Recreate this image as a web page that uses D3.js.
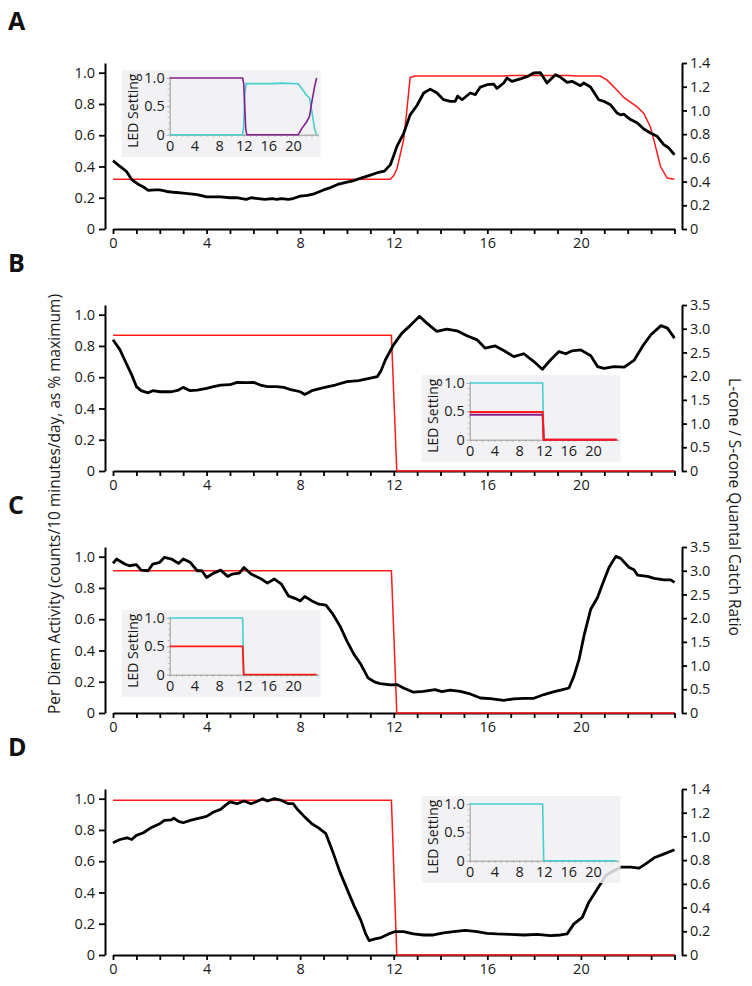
<!DOCTYPE html>
<html><head><meta charset="utf-8">
<script src="https://cdn.jsdelivr.net/npm/d3@7"></script>
<style>
body{margin:0;background:#fff}
svg{display:block}
text{font-family:"Open Sans",sans-serif;fill:#1a1a1a}
</style>
</head><body>
<svg id="c" width="752" height="986"></svg>
<script>
// ---------------- DATA ----------------
const panelLabels = ["A","B","C","D"];
const xTickLabels = [0,4,8,12,16,20];
const leftTicks = [0,0.2,0.4,0.6,0.8,1.0];
const rightTicks14 = [0,0.2,0.4,0.6,0.8,1.0,1.2,1.4];
const rightTicks35 = [0,0.5,1.0,1.5,2.0,2.5,3.0,3.5];
const insetYTicks = [0,0.5,1.0];
const insetXTicks = [0,4,8,12,16,20];

// Panel A
const hoursA = [0,0.3,0.57,0.8,1.1,1.3,1.5,1.8,2.0,2.3,2.6,3.0,3.3,3.6,4.0,4.3,4.6,5.0,5.3,5.5,5.7,5.9,6.2,6.5,6.8,7.0,7.2,7.5,7.7,8.0,8.3,8.6,9.0,9.3,9.6,10.0,10.3,10.6,11.0,11.3,11.6,11.85,12.0,12.14,12.42,12.7,12.99,13.28,13.56,13.85,14.13,14.42,14.63,14.73,14.92,15.27,15.49,15.7,15.99,16.27,16.41,16.7,16.84,17.05,17.41,17.77,17.98,18.27,18.55,18.91,19.12,19.41,19.62,19.98,20.12,20.41,20.76,20.98,21.26,21.55,21.69,21.83,22.12,22.4,22.69,22.97,23.26,23.54,23.76,24];
const activityA = [0.437,0.40,0.369,0.316,0.284,0.269,0.247,0.25,0.25,0.24,0.235,0.23,0.225,0.22,0.205,0.205,0.205,0.2,0.2,0.195,0.19,0.2,0.195,0.19,0.195,0.19,0.195,0.19,0.195,0.21,0.215,0.225,0.25,0.265,0.285,0.30,0.31,0.325,0.345,0.36,0.37,0.41,0.47,0.53,0.61,0.73,0.79,0.87,0.895,0.87,0.827,0.817,0.817,0.85,0.827,0.87,0.86,0.908,0.923,0.927,0.90,0.934,0.966,0.944,0.96,0.98,0.998,1.0,0.934,0.987,0.972,0.938,0.945,0.917,0.934,0.908,0.827,0.817,0.795,0.742,0.73,0.735,0.70,0.68,0.64,0.614,0.593,0.54,0.518,0.475];
const ratioHoursA = [0,11.85,12.0,12.14,12.42,12.56,12.7,12.9,16.7,17.0,19.5,19.8,20.83,21.12,21.55,21.83,22.4,22.69,22.97,23.12,23.4,23.69,24];
const ratioA = [0.42,0.42,0.45,0.51,0.75,1.0,1.277,1.29,1.29,1.295,1.295,1.29,1.29,1.255,1.17,1.11,1.03,0.975,0.86,0.75,0.527,0.43,0.42];

// Panel B
const hoursB = [0,0.3,0.5,0.8,1.0,1.2,1.5,1.7,2.0,2.5,2.8,3.0,3.3,3.6,4.0,4.3,4.6,5.0,5.3,5.7,6.0,6.3,6.6,7.0,7.3,7.6,8.0,8.2,8.5,9.0,9.5,10.0,10.5,11.0,11.3,11.45,11.64,11.99,12.35,12.7,13.1,13.41,13.84,14.27,14.7,15.13,15.56,15.91,16.34,16.7,17.13,17.56,17.99,18.35,18.7,19.06,19.35,19.63,19.99,20.42,20.71,20.99,21.42,21.85,22.28,22.63,22.99,23.42,23.7,24];
const activityB = [0.84,0.775,0.71,0.615,0.54,0.514,0.50,0.514,0.507,0.507,0.518,0.535,0.514,0.518,0.529,0.54,0.55,0.552,0.567,0.565,0.567,0.55,0.54,0.54,0.535,0.52,0.507,0.49,0.514,0.533,0.55,0.572,0.578,0.594,0.604,0.64,0.71,0.807,0.882,0.93,0.99,0.946,0.893,0.908,0.897,0.865,0.839,0.786,0.80,0.771,0.732,0.75,0.70,0.651,0.71,0.764,0.75,0.769,0.775,0.737,0.668,0.657,0.668,0.664,0.71,0.797,0.872,0.93,0.914,0.85];
const ratioHoursB = [0,11.9,12.13,24];
const ratioB = [2.86,2.86,0,0];

// Panel C
const hoursC = [0,0.15,0.5,0.7,1.0,1.2,1.5,1.7,2.0,2.2,2.5,2.8,3.0,3.3,3.6,3.8,4.0,4.3,4.6,4.9,5.1,5.4,5.6,5.9,6.3,6.6,6.9,7.2,7.5,7.8,8.0,8.2,8.5,8.8,9.1,9.4,9.7,10.0,10.3,10.6,10.9,11.2,11.42,11.85,12.13,12.42,12.84,13.27,13.77,14.05,14.41,14.84,15.27,15.7,16.13,16.7,17.13,17.56,17.99,18.42,18.78,19.13,19.49,19.7,19.92,20.13,20.42,20.71,20.92,21.2,21.49,21.7,22.06,22.27,22.42,22.85,23.13,23.56,23.84,24];
const activityC = [0.957,0.985,0.953,0.942,0.949,0.914,0.91,0.953,0.964,0.996,0.985,0.957,0.985,0.964,0.91,0.91,0.867,0.895,0.914,0.874,0.889,0.895,0.931,0.889,0.861,0.831,0.857,0.824,0.749,0.732,0.717,0.745,0.717,0.696,0.69,0.632,0.557,0.46,0.375,0.31,0.225,0.197,0.188,0.18,0.182,0.16,0.133,0.139,0.15,0.137,0.146,0.139,0.122,0.096,0.092,0.081,0.09,0.094,0.094,0.118,0.133,0.146,0.16,0.236,0.343,0.493,0.664,0.739,0.824,0.931,1.002,0.989,0.931,0.916,0.882,0.874,0.861,0.852,0.852,0.835];
const ratioHoursC = [0,11.9,12.13,24];
const ratioC = [3.0,3.0,0,0];

// Panel D
const hoursD = [0,0.3,0.6,0.8,1.0,1.3,1.6,2.0,2.2,2.5,2.6,2.8,3.0,3.3,3.6,4.0,4.3,4.6,4.8,5.0,5.3,5.6,5.9,6.1,6.4,6.6,6.9,7.2,7.5,7.7,7.9,8.2,8.5,8.8,9.1,9.4,9.7,10.0,10.3,10.6,10.8,10.95,11.2,11.42,11.78,12.06,12.42,12.84,13.27,13.7,14.13,14.56,15.06,15.56,15.99,16.41,16.98,17.56,18.13,18.7,19.13,19.41,19.7,20.06,20.34,20.7,21.06,21.42,21.7,22.13,22.49,22.77,23.13,23.56,24];
const activityD = [0.718,0.739,0.75,0.739,0.765,0.782,0.812,0.84,0.861,0.865,0.876,0.855,0.846,0.861,0.872,0.887,0.915,0.932,0.957,0.979,0.968,0.985,0.968,0.979,1.0,0.985,1.0,0.989,0.968,0.968,0.929,0.882,0.84,0.812,0.776,0.658,0.53,0.423,0.316,0.22,0.135,0.092,0.103,0.109,0.135,0.15,0.15,0.135,0.128,0.128,0.141,0.15,0.158,0.15,0.139,0.135,0.132,0.128,0.132,0.124,0.128,0.135,0.199,0.241,0.338,0.423,0.509,0.541,0.562,0.562,0.556,0.583,0.622,0.647,0.673];
const ratioHoursD = [0,11.9,12.13,24];
const ratioD = [1.305,1.305,0,0];

// Inset LED settings
const ledHoursA_purple = [0,11.83,12.0,12.17,12.33,12.5,20.83,21.5,22.17,22.67,23.0,23.5,23.83];
const ledA_purple      = [1,1,0.9,0.5,0.1,0,0,0.12,0.22,0.32,0.55,0.85,1.0];
const ledHoursA_cyan   = [0,11.83,12.0,12.17,12.4,17,18,20.83,21.5,22.17,22.67,23.0,23.5,23.83];
const ledA_cyan        = [0,0,0.15,0.7,0.9,0.9,0.91,0.9,0.8,0.7,0.65,0.45,0.1,0];
const ledStepHours = [0,11.83,12.0,23.83];
const ledB_cyan = [1,1,0,0];
const ledB_purple = [0.44,0.44,0,0];
const ledB_red = [0.49,0.49,0,0];
const ledC_cyan = [1,1,0,0];
const ledC_red = [0.5,0.5,0,0];
const ledD_cyan = [1,1,0,0];

// ---------------- DRAWING ----------------
const RED = "#ff1a1a", CYAN = "#45cfcf", PURPLE = "#841f8c";
const panels = [
  {act:[hoursA,activityA], ratio:[ratioHoursA,ratioA], rmax:1.4, rticks:rightTicks14,
   inset:{x:121.7,y:70, series:[[ledHoursA_cyan,ledA_cyan,CYAN,1.6],[ledHoursA_purple,ledA_purple,PURPLE,1.6]]}},
  {act:[hoursB,activityB], ratio:[ratioHoursB,ratioB], rmax:3.5, rticks:rightTicks35,
   inset:{x:421.7,y:375, series:[[ledStepHours,ledB_cyan,CYAN,1.6],[ledStepHours,ledB_purple,PURPLE,2.0],[ledStepHours,ledB_red,RED,2.0]]}},
  {act:[hoursC,activityC], ratio:[ratioHoursC,ratioC], rmax:3.5, rticks:rightTicks35,
   inset:{x:121.7,y:610, series:[[ledStepHours,ledC_cyan,CYAN,1.6],[ledStepHours,ledC_red,RED,1.8]]}},
  {act:[hoursD,activityD], ratio:[ratioHoursD,ratioD], rmax:1.4, rticks:rightTicks14,
   inset:{x:421.7,y:796, series:[[ledStepHours,ledD_cyan,CYAN,1.6]]}}
];

const svg = d3.select("#c");
const fmt = d => d === 0 ? "0" : d3.format(".1f")(d);

panels.forEach((p, i) => {
  const base = 229 + 242*i, top = base - 166;
  const x = d3.scaleLinear().domain([0,24]).range([113,674.5]);
  const yL = d3.scaleLinear().domain([0,1.062]).range([base,top]);
  const yR = d3.scaleLinear().domain([0,p.rmax]).range([base,top]);
  const g = svg.append("g");

  svg.append("text").attr("x",8).attr("y",30+242*i)
    .style("font-size","25px").style("font-weight","bold").style("fill","#111")
    .text(panelLabels[i]);

  const la = g.append("g").attr("transform","translate(105,0)")
    .call(d3.axisLeft(yL).tickValues(leftTicks).tickFormat(fmt).tickSize(6).tickPadding(4).tickSizeOuter(0));
  const ra = g.append("g").attr("transform","translate(682,0)")
    .call(d3.axisRight(yR).tickValues(p.rticks).tickFormat(fmt).tickSize(5).tickPadding(3).tickSizeOuter(0));
  const ba = g.append("g").attr("transform",`translate(0,${base})`)
    .call(d3.axisBottom(x).tickValues(d3.range(0,25)).tickFormat(d => xTickLabels.includes(d) ? d : "")
      .tickSize(5).tickPadding(4).tickSizeOuter(0));
  [la,ra,ba].forEach(a => {
    a.select(".domain").attr("stroke","#000").attr("stroke-width",2);
    a.selectAll(".tick line").attr("stroke","#000").attr("stroke-width",1.8);
    a.selectAll(".tick text").style("font-size","14.5px").style("fill","#1a1a1a");
  });

  const lineL = d3.line().x(d=>x(d[0])).y(d=>yL(d[1]));
  const lineR = d3.line().x(d=>x(d[0])).y(d=>yR(d[1]));
  g.append("path").datum(d3.zip(p.ratio[0],p.ratio[1])).attr("d",lineR)
    .attr("fill","none").attr("stroke",RED).attr("stroke-width",1.5);
  g.append("path").datum(d3.zip(p.act[0],p.act[1])).attr("d",lineL)
    .attr("fill","none").attr("stroke","#000").attr("stroke-width",2.8).attr("stroke-linejoin","round");

  const ins = p.inset;
  const ig = svg.append("g");
  ig.append("rect").attr("x",ins.x).attr("y",ins.y).attr("width",199).attr("height",87)
    .attr("fill","#f0f0f2").attr("fill-opacity",0.85);
  const ix = d3.scaleLinear().domain([0,24]).range([ins.x+48, ins.x+196]);
  const iy = d3.scaleLinear().domain([0,1.03]).range([ins.y+64.7, ins.y+6.3]);
  const iya = ig.append("g").attr("transform",`translate(${ins.x+48},0)`)
    .call(d3.axisLeft(iy).tickValues(insetYTicks).tickFormat(fmt).tickSize(3).tickPadding(2).tickSizeOuter(0));
  const ixa = ig.append("g").attr("transform",`translate(0,${ins.y+64.7})`)
    .call(d3.axisBottom(ix).tickValues(d3.range(0,25)).tickFormat(d => insetXTicks.includes(d) ? d : "")
      .tickSize(2).tickPadding(4).tickSizeOuter(0));
  ig.append("g").selectAll("line").data(d3.range(0.1,1.0,0.1)).join("line")
    .attr("x1",ins.x+46).attr("x2",ins.x+48).attr("y1",d=>iy(d)).attr("y2",d=>iy(d))
    .attr("stroke","#aaa").attr("stroke-width",0.8);
  [iya,ixa].forEach(a => {
    a.select(".domain").attr("stroke","#999").attr("stroke-width",1);
    a.selectAll(".tick line").attr("stroke","#999").attr("stroke-width",0.8);
    a.selectAll(".tick text").style("font-size","14.5px").style("fill","#1a1a1a");
  });
  ig.append("text").attr("transform",`translate(${ins.x+16},${ins.y+40.7}) rotate(-90)`)
    .attr("text-anchor","middle").style("font-size","14px").text("LED Setting");
  const il = d3.line().x(d=>ix(d[0])).y(d=>iy(d[1]));
  ins.series.forEach(s => {
    ig.append("path").datum(d3.zip(s[0],s[1])).attr("d",il)
      .attr("fill","none").attr("stroke",s[2]).attr("stroke-width",s[3]);
  });
});

svg.append("text").attr("transform","translate(60,504) rotate(-90)").attr("text-anchor","middle")
  .style("font-size","15.5px").text("Per Diem Activity (counts/10 minutes/day, as % maximum)");
svg.append("text").attr("transform","translate(729,507) rotate(90)").attr("text-anchor","middle")
  .style("font-size","15.5px").text("L-cone / S-cone Quantal Catch Ratio");
</script>
</body></html>
